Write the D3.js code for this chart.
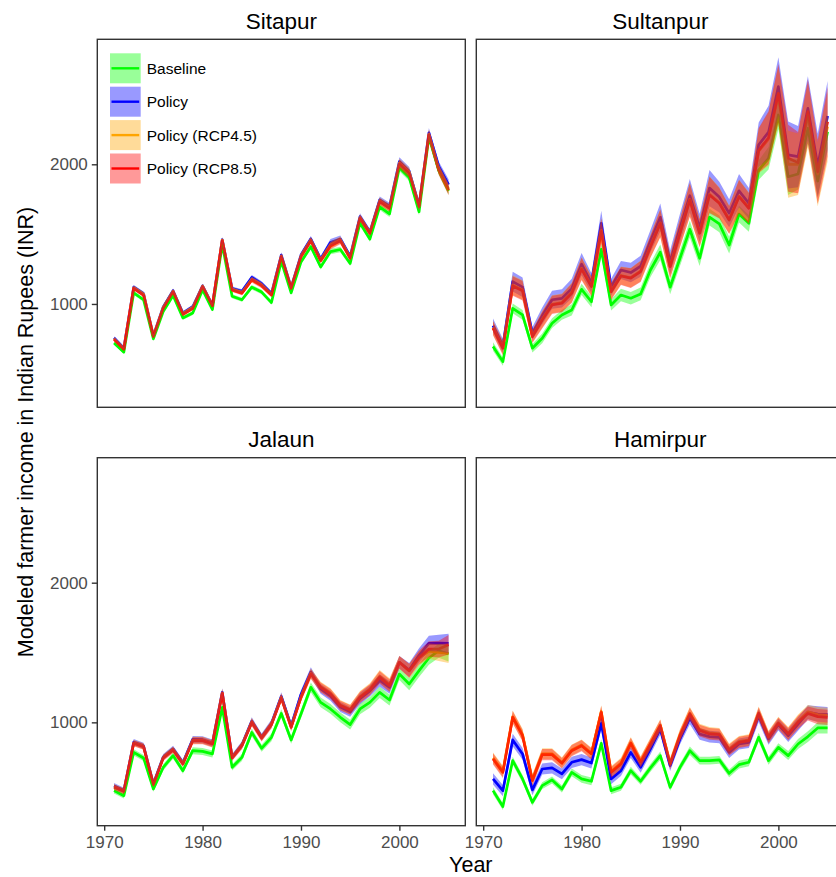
<!DOCTYPE html>
<html>
<head>
<meta charset="utf-8">
<script src="https://cdn.jsdelivr.net/npm/d3@7"></script>
<style>
  html, body { margin: 0; padding: 0; background: #fff; }
  svg { display: block; font-family: "Liberation Sans", Arial, sans-serif; }
</style>
</head>
<body>
<svg id="chart" width="836" height="877"></svg>
<script>
// ── Data (1971–2005) ─────────────────────
const years = d3.range(1971, 2006);
const districts = ['Sitapur', 'Sultanpur', 'Jalaun', 'Hamirpur'];
const seriesNames = ['Baseline', 'Policy', 'Policy (RCP4.5)', 'Policy (RCP8.5)'];
const yTicks = [1000, 2000];
const xTicks = [1970, 1980, 1990, 2000];

// Sitapur
const sitBase = [720,655,1080,1030,750,945,1060,900,935,1100,960,1425,1055,1030,1120,1085,1010,1305,1080,1300,1410,1265,1375,1390,1290,1580,1465,1695,1645,1975,1905,1660,2195,1955,1810];
const sitPol  = [757,684,1120,1074,772,978,1095,935,980,1130,992,1460,1110,1090,1190,1145,1075,1350,1118,1350,1465,1322,1440,1465,1340,1625,1515,1745,1700,2020,1950,1705,2225,1985,1855];
const sitR45  = [752,680,1116,1070,770,975,1092,930,975,1128,990,1458,1105,1082,1176,1136,1068,1343,1115,1343,1458,1315,1422,1458,1332,1618,1510,1738,1690,2010,1945,1700,2215,1965,1825];
const sitR85  = [747,676,1112,1064,766,969,1088,926,969,1124,986,1453,1100,1077,1172,1131,1064,1339,1112,1339,1453,1310,1415,1453,1327,1613,1506,1732,1685,2002,1935,1697,2210,1959,1816];
const sitBaseSpread = [12,12,15,15,12,14,15,14,14,15,14,18,15,15,16,16,15,18,15,18,20,18,20,20,18,22,20,22,22,25,25,25,28,28,28];
const sitPolSpread  = [12,12,15,15,12,14,15,14,14,15,14,20,15,15,18,18,16,20,16,20,22,20,25,25,20,25,22,25,25,30,30,30,35,35,38];

// Sultanpur
const sulBase = [695,587,969,921,683,754,862,921,957,1105,1016,1391,993,1064,1041,1072,1243,1370,1120,1327,1535,1327,1621,1573,1422,1644,1577,1959,2043,2353,1911,1930,2258,1880,2233];
const sulPol  = [845,700,1160,1120,790,915,1030,1040,1110,1285,1150,1577,1120,1243,1225,1270,1450,1620,1300,1545,1775,1545,1830,1765,1650,1810,1720,2140,2230,2556,2067,2055,2400,1990,2346];
const sulR45  = [830,688,1135,1100,770,890,998,1010,1082,1255,1128,1525,1092,1204,1188,1236,1414,1580,1270,1510,1748,1510,1785,1725,1605,1772,1690,2095,2180,2490,2000,2000,2350,1930,2270];
const sulR85  = [826,683,1129,1095,766,885,993,1005,1077,1250,1124,1520,1088,1200,1185,1232,1410,1577,1267,1506,1744,1506,1780,1721,1601,1768,1685,2100,2190,2508,2043,2012,2377,1947,2305];
const sulBaseSpread = [30,30,35,35,30,35,35,35,40,40,40,45,40,45,45,45,50,55,50,55,60,55,60,60,60,60,60,70,80,100,130,110,110,110,120];
const sulPolSpread  = [50,50,70,70,45,60,65,65,70,80,70,90,60,65,70,75,80,100,85,100,120,100,130,110,100,120,110,160,190,210,240,220,230,230,250];

// Jalaun
const jalBase = [511,475,785,745,523,678,762,654,797,792,774,1107,678,749,928,814,893,1064,874,1060,1251,1143,1096,1036,984,1096,1143,1215,1160,1346,1275,1370,1461,1513,1490];
const jalPol  = [545,512,858,832,560,752,810,710,878,876,852,1215,752,840,1008,895,992,1185,975,1200,1360,1240,1190,1110,1075,1170,1225,1300,1250,1430,1375,1480,1565,1568,1565];
const jalR45  = [538,508,852,828,556,748,805,705,872,872,848,1210,748,836,1003,890,987,1178,968,1182,1350,1255,1210,1125,1093,1185,1240,1330,1270,1430,1368,1460,1510,1500,1495];
const jalR85  = [535,506,850,826,554,745,802,702,869,869,845,1208,745,833,1000,888,984,1175,964,1179,1346,1251,1203,1120,1089,1179,1232,1322,1263,1430,1370,1465,1525,1525,1556];
const jalBaseSpread = [20,20,22,22,20,22,22,22,25,25,25,28,22,25,28,25,28,30,28,30,35,35,35,35,35,38,38,40,40,42,45,45,48,50,55];
const jalPolSpread  = [20,20,22,22,20,22,22,22,25,25,25,30,22,25,28,25,28,30,28,30,35,35,35,35,35,40,40,45,45,45,50,50,55,60,70];

// Hamirpur
const hamBase = [511,397,726,595,427,547,588,523,642,595,578,850,511,535,654,578,674,762,535,678,797,726,726,731,635,697,714,893,726,821,762,845,898,960,960];
const hamPol  = [595,511,874,774,516,666,674,631,714,733,709,993,595,654,785,678,810,953,690,881,1032,917,898,893,785,845,857,1048,881,984,905,988,1072,1060,1055];
const hamR45  = [745,650,1040,912,590,775,775,712,802,838,778,1078,648,708,855,720,850,980,708,910,1065,948,925,918,808,862,875,1068,898,998,922,1008,1075,1055,1050];
const hamR85  = [738,642,1036,905,583,769,769,707,797,833,774,1072,642,702,850,714,845,976,702,905,1060,941,917,912,802,857,869,1064,893,993,917,1000,1064,1041,1036];
const hamBaseSpread = [25,25,28,28,25,25,25,25,28,28,28,30,25,25,28,25,28,30,25,28,30,28,28,28,28,28,28,32,30,30,32,35,38,40,40];
const hamPolSpread  = [40,40,45,42,38,40,40,38,40,40,40,45,38,38,40,38,40,42,38,40,45,42,42,42,40,40,40,45,42,42,45,48,50,55,55];

// ── Layout & style ───────────────────────
const colors = ['#00ff00', '#0000ff', '#ffa500', '#ff0000'];
const panelW = 368, panelH = 368;
const colX = [97.3, 476.3], rowY = [39.3, 457.7];

const panels = [
  { name: districts[0], col: 0, row: 0, series: [sitBase, sitPol, sitR45, sitR85], spread: [sitBaseSpread, sitPolSpread, sitPolSpread, sitPolSpread] },
  { name: districts[1], col: 1, row: 0, series: [sulBase, sulPol, sulR45, sulR85], spread: [sulBaseSpread, sulPolSpread, sulPolSpread, sulPolSpread] },
  { name: districts[2], col: 0, row: 1, series: [jalBase, jalPol, jalR45, jalR85], spread: [jalBaseSpread, jalPolSpread, jalPolSpread, jalPolSpread] },
  { name: districts[3], col: 1, row: 1, series: [hamBase, hamPol, hamR45, hamR85], spread: [hamBaseSpread, hamPolSpread, hamPolSpread, hamPolSpread] },
];

const svg = d3.select('#chart');
const x = d3.scaleLinear().domain([1969.3, 2006.7]).range([0, panelW]);
const y = d3.scaleLinear().domain([260, 2895]).range([panelH, 0]);

const line = d3.line().x((d, i) => x(years[i])).y(d => y(d));

panels.forEach((p, pi) => {
  const g = svg.append('g').attr('transform', `translate(${colX[p.col]},${rowY[p.row]})`);

  g.append('clipPath').attr('id', `clip${pi}`)
    .append('rect').attr('width', panelW).attr('height', panelH);
  const plot = g.append('g').attr('clip-path', `url(#clip${pi})`);

  // lines first, ribbons drawn over them (as in the source figure)
  p.series.forEach((vals, si) => {
    plot.append('path').datum(vals)
      .attr('fill', 'none').attr('stroke', colors[si]).attr('stroke-width', 2.7)
      .attr('stroke-linejoin', 'round').attr('d', line);
  });
  p.series.forEach((vals, si) => {
    const sp = p.spread[si];
    const area = d3.area()
      .x((d, i) => x(years[i]))
      .y0((d, i) => y(d - sp[i]))
      .y1((d, i) => y(d + sp[i]));
    plot.append('path').datum(vals)
      .attr('fill', colors[si]).attr('fill-opacity', 0.4).attr('d', area);
  });

  g.append('rect').attr('width', panelW).attr('height', panelH)
    .attr('fill', 'none').attr('stroke', '#333').attr('stroke-width', 1.4);

  // strip title
  g.append('text').attr('x', panelW / 2).attr('y', -10.5)
    .attr('text-anchor', 'middle').attr('font-size', 22.5).attr('fill', '#000')
    .text(p.name);

  if (p.col === 0) {
    const ax = g.append('g').call(d3.axisLeft(y).tickValues(yTicks).tickSize(5.5).tickPadding(4).tickFormat(d3.format('d')));
    ax.select('.domain').remove();
    ax.selectAll('line').attr('stroke', '#333').attr('stroke-width', 1.4);
    ax.selectAll('text').attr('font-size', 17).attr('fill', '#4d4d4d').attr('font-family', null);
  }
  if (p.row === 1) {
    const ax = g.append('g').attr('transform', `translate(0,${panelH})`)
      .call(d3.axisBottom(x).tickValues(xTicks).tickSize(5).tickPadding(5.5).tickFormat(d3.format('d')));
    ax.select('.domain').remove();
    ax.selectAll('line').attr('stroke', '#333').attr('stroke-width', 1.4);
    ax.selectAll('text').attr('font-size', 17).attr('fill', '#4d4d4d').attr('font-family', null);
  }

  // legend inside the first panel
  if (pi === 0) {
    const lg = g.append('g').attr('transform', 'translate(12.7,14)');
    seriesNames.forEach((name, i) => {
      const k = lg.append('g').attr('transform', `translate(0,${i * 33.4})`);
      k.append('rect').attr('width', 30.7).attr('height', 30)
        .attr('fill', colors[i]).attr('fill-opacity', 0.4);
      k.append('line').attr('x1', 1.5).attr('x2', 29.2).attr('y1', 15).attr('y2', 15)
        .attr('stroke', colors[i]).attr('stroke-width', 2.4);
      k.append('text').attr('x', 36.7).attr('y', 15).attr('dy', '0.35em')
        .attr('font-size', 15.5).attr('fill', '#000').text(name);
    });
  }
});

// axis titles
svg.append('text').attr('x', 470.8).attr('y', 872)
  .attr('text-anchor', 'middle').attr('font-size', 21.5).attr('fill', '#000').text('Year');
svg.append('text').attr('transform', 'translate(32.5,432) rotate(-90)')
  .attr('text-anchor', 'middle').attr('font-size', 21.5).attr('fill', '#000')
  .text('Modeled farmer income in Indian Rupees (INR)');
</script>
</body>
</html>
